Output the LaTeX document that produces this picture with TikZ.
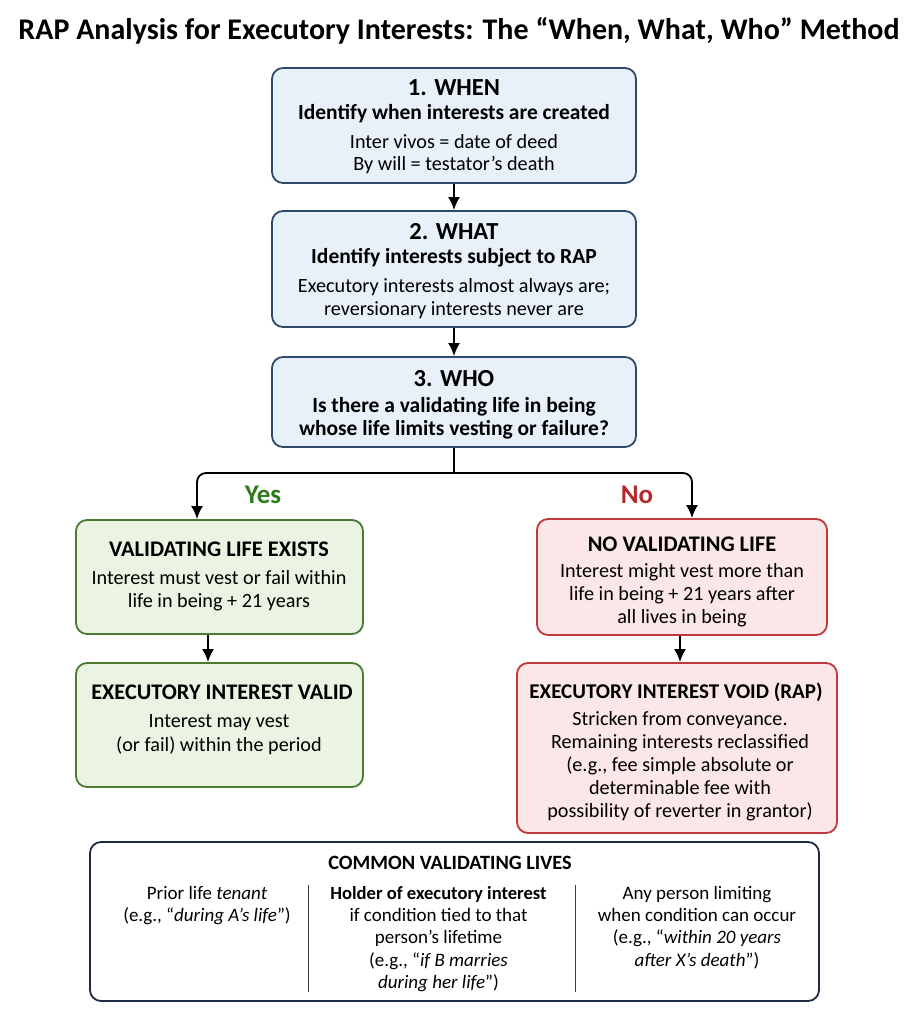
\documentclass[tikz,border=0pt]{standalone}
\usepackage{fontspec}
\setmainfont{Carlito}
\usetikzlibrary{arrows.meta,calc}
\definecolor{bluefill}{HTML}{E8F1FA}
\definecolor{blueline}{HTML}{2F4A68}
\definecolor{greenfill}{HTML}{EBF4E2}
\definecolor{greenline}{HTML}{4C7A30}
\definecolor{redfill}{HTML}{FBE7E7}
\definecolor{redline}{HTML}{C03A3C}
\definecolor{yesgreen}{HTML}{2C7A1C}
\definecolor{nored}{HTML}{B3282B}
\definecolor{navy}{HTML}{1E2A44}
\tikzset{
  box/.style={rounded corners=11pt, line width=1.8pt, inner sep=0pt},
  bluebox/.style={box, draw=blueline, fill=bluefill},
  greenbox/.style={box, draw=greenline, fill=greenfill},
  redbox/.style={box, draw=redline, fill=redfill},
  commonbox/.style={box, draw=navy, fill=white},
  tl/.style={anchor=base, inner sep=0pt, text=black},
  ttl/.style={tl, font=\fontsize{30}{32}\selectfont\bfseries},
  hd/.style={tl, font=\fontsize{24.5}{26}\selectfont\bfseries},
  sub/.style={tl, font=\fontsize{21.5}{23}\selectfont\bfseries},
  hd2/.style={tl, font=\fontsize{22.3}{24}\selectfont\bfseries},
  bd/.style={tl, font=\fontsize{20.2}{22}\selectfont},
  chd/.style={tl, font=\fontsize{20.3}{22}\selectfont\bfseries},
  cbd/.style={tl, font=\fontsize{19}{21}\selectfont},
  lab/.style={tl, font=\fontsize{27}{29}\selectfont\bfseries},
  arr/.style={line width=1.8pt, -{Latex[length=13pt,width=12pt]}},
  plain/.style={line width=1.8pt},
  divider/.style={line width=1pt, black!75},
}
\newcommand\tx[5]{\node[#2] (#1) at (#3,#4) {#5};}
\begin{document}
\begin{tikzpicture}[x=1pt,y=-1pt]
\useasboundingbox (0,0) rectangle (918,1019);
% title
\tx{title}{ttl}{459}{40}{RAP Analysis for Executory Interests: The “When, What, Who” Method}
% boxes
\node[bluebox, minimum width=364pt, minimum height=115pt] (when) at (454,125.5) {};
\node[bluebox, minimum width=364pt, minimum height=116pt] (what) at (454,269) {};
\node[bluebox, minimum width=364pt, minimum height=90pt] (who) at (454,402) {};
\node[greenbox, minimum width=287pt, minimum height=114pt] (yes1) at (219.5,577) {};
\node[greenbox, minimum width=287pt, minimum height=124pt] (yes2) at (219.5,725) {};
\node[redbox, minimum width=290pt, minimum height=116pt] (no1) at (682,577) {};
\node[redbox, minimum width=320pt, minimum height=170pt] (no2) at (677,748) {};
\node[commonbox, minimum width=729pt, minimum height=159pt] (common) at (454.5,921.5) {};
% box 1
\tx{w1}{hd}{454}{96}{1. WHEN}
\tx{w2}{sub}{454}{120}{Identify when interests are created}
\tx{w3}{bd}{454}{149}{Inter vivos = date of deed}
\tx{w4}{bd}{454}{171}{By will = testator’s death}
% box 2
\tx{a1}{hd}{454}{239}{2. WHAT}
\tx{a2}{sub}{454}{263}{Identify interests subject to RAP}
\tx{a3}{bd}{454}{292}{Executory interests almost always are;}
\tx{a4}{bd}{454}{315}{reversionary interests never are}
% box 3
\tx{o1}{hd}{454}{386}{3. WHO}
\tx{o2}{sub}{454}{412}{Is there a validating life in being}
\tx{o3}{sub}{454}{435}{whose life limits vesting or failure?}
% labels
\tx{yes}{lab,text=yesgreen}{263}{503}{Yes}
\tx{no}{lab,text=nored}{637}{503}{No}
% green 1
\tx{g1}{hd2}{219}{556}{VALIDATING LIFE EXISTS}
\tx{g2}{bd}{219}{584}{Interest must vest or fail within}
\tx{g3}{bd}{219}{607}{life in being + 21 years}
% green 2
\tx{g4}{hd2}{222}{699}{EXECUTORY INTEREST VALID}
\tx{g5}{bd}{219}{727}{Interest may vest}
\tx{g6}{bd}{219}{751}{(or fail) within the period}
% red 1
\tx{r1}{hd2}{682}{551}{NO VALIDATING LIFE}
\tx{r2}{bd}{682}{577}{Interest might vest more than}
\tx{r3}{bd}{682}{600}{life in being + 21 years after}
\tx{r4}{bd}{682}{623}{all lives in being}
% red 2
\tx{r5}{hd2,font=\fontsize{21}{23}\selectfont\bfseries}{676}{698}{EXECUTORY INTEREST VOID (RAP)}
\tx{r6}{bd}{680}{725}{Stricken from conveyance.}
\tx{r7}{bd}{680}{748}{Remaining interests reclassified}
\tx{r8}{bd}{680}{771}{(e.g., fee simple absolute or}
\tx{r9}{bd}{680}{794}{determinable fee with}
\tx{r10}{bd}{680}{817}{possibility of reverter in grantor)}
% common
\tx{c0}{chd}{450}{869}{COMMON VALIDATING LIVES}
\tx{c1}{cbd}{207}{899}{Prior life \textit{tenant}}
\tx{c2}{cbd}{207}{921}{(e.g., “\textit{during A’s life}”)}
\tx{c3}{cbd,font=\fontsize{18.6}{21}\selectfont\bfseries}{438.5}{899}{Holder of executory interest}
\tx{c4}{cbd}{438.5}{921}{if condition tied to that}
\tx{c5}{cbd}{438.5}{943}{person’s lifetime}
\tx{c6}{cbd}{438.5}{966}{(e.g., “\textit{if B marries}}
\tx{c7}{cbd}{438.5}{988}{\textit{during her life}”)}
\tx{c8}{cbd}{697}{899}{Any person limiting}
\tx{c9}{cbd}{697}{921}{when condition can occur}
\tx{c10}{cbd}{697}{943}{(e.g., “\textit{within 20 years}}
\tx{c11}{cbd}{697}{966}{\textit{after X’s death}”)}
\coordinate (d1t) at (308,885);
\coordinate (d1b) at (308,992);
\coordinate (d2t) at (575,885);
\coordinate (d2b) at (575,992);
\draw[divider] (d1t) -- (d1b);
\draw[divider] (d2t) -- (d2b);
% connectors
\draw[arr] (when.south) -- (what.north);
\draw[arr] (what.south) -- (who.north);
\coordinate (jy) at (0,473);
\coordinate (yx) at (197,0);
\coordinate (nx) at (692,0);
\coordinate (gx) at (208,0);
\coordinate (rx) at (680,0);
\draw[plain] (who.south) -- (who.south |- jy);
\draw[arr, rounded corners=9pt] (who.south |- jy) -| (yx |- yes1.north);
\draw[arr, rounded corners=9pt] (who.south |- jy) -| (nx |- no1.north);
\draw[arr] (gx |- yes1.south) -- (gx |- yes2.north);
\draw[arr] (rx |- no1.south) -- (rx |- no2.north);
\end{tikzpicture}
\end{document}
